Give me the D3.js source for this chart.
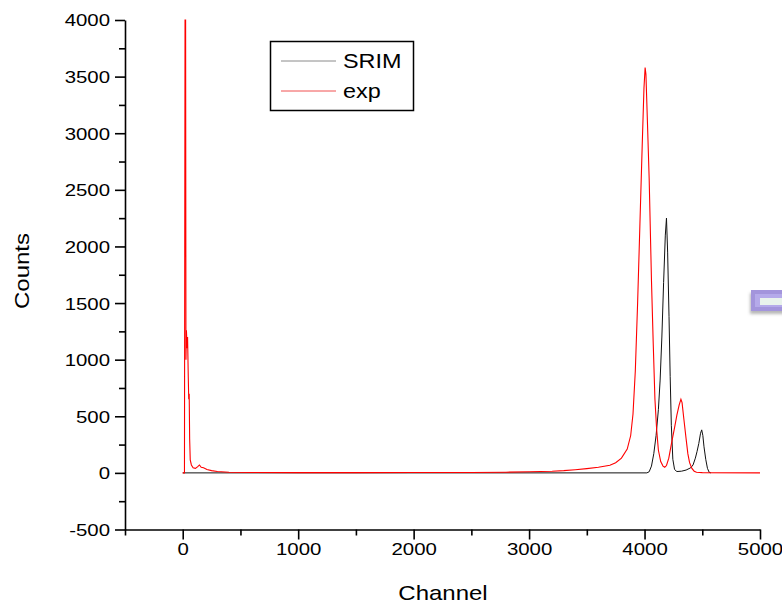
<!DOCTYPE html>
<meta charset="utf-8">
<script src="https://cdn.jsdelivr.net/npm/d3@7"></script>

<style>
  body { margin: 0; background: #fff; }
  text { font-family: "Liberation Sans", Arial, sans-serif; fill: #000; }
</style>

<body>
  <svg id="vis"></svg>
</body>

<script>
  // exp spectrum (red)
  var expChannel = [0, 15, 20, 25, 28, 32, 38, 42, 48, 52, 56, 60, 65, 75, 90, 110, 130, 145, 160, 180, 210, 250, 300, 400, 600,
    1000, 1500, 2000, 2500, 2800, 3000, 3200, 3300, 3400, 3500, 3600, 3700, 3750, 3800, 3850, 3880, 3900, 3920, 3940, 3960,
    3980, 3995, 4005, 4012, 4025, 4040, 4060, 4075, 4090, 4105, 4120, 4140, 4160, 4175, 4190, 4210, 4235, 4260, 4280, 4300,
    4315, 4325, 4340, 4360, 4375, 4390, 4410, 4430, 4450, 4500, 5000];
  var expCounts = [0, 0, 4000, 4000, 1000, 1260, 1100, 1200, 850, 650, 700, 300, 115, 70, 45, 40, 55, 70, 50, 45, 30, 20, 12, 6, 3,
    2, 2, 3, 4, 6, 10, 15, 20, 28, 38, 50, 68, 90, 130, 210, 330, 520, 900, 1500, 2200,
    2900, 3400, 3580, 3520, 3100, 2600, 1700, 1150, 650, 380, 200, 100, 60, 50, 65, 130, 270, 400, 510, 600,
    650, 620, 480, 300, 170, 90, 40, 15, 5, 2, 0];

  // SRIM simulation (black)
  var srimChannel = [0, 4020, 4040, 4060, 4080, 4100, 4120, 4135, 4150, 4165, 4180, 4190, 4200, 4212, 4222, 4232, 4245, 4260,
    4280, 4320, 4360, 4400, 4420, 4440, 4455, 4470, 4485, 4495, 4505, 4515, 4530, 4545, 4560, 4575];
  var srimCounts = [0, 0, 10, 60, 170, 330, 560, 820, 1200, 1680, 2100, 2250, 1950, 1380, 850, 420, 120, 30,
    12, 15, 25, 45, 70, 130, 190, 260, 350, 380, 330, 230, 120, 40, 5, 0];

  var xTicks = [0, 1000, 2000, 3000, 4000, 5000];
  var yTicks = [-500, 0, 500, 1000, 1500, 2000, 2500, 3000, 3500, 4000];

  var width = 782, height = 604;
  var stretch = 1.2;   // the original lettering is wide

  var svg = d3.select("#vis")
    .attr("width", width)
    .attr("height", height);

  svg.append("rect").attr("width", width).attr("height", height).attr("fill", "#fff");

  var x = d3.scaleLinear().domain([-500, 5000]).range([125, 760]);
  var y = d3.scaleLinear().domain([-500, 4000]).range([529.5, 20]);

  // axes
  var yMinor = d3.range(-500, 4001, 250).filter(function(v){ return v % 500 != 0; });
  var xMinor = d3.range(-500, 5001, 500).filter(function(v){ return v % 1000 != 0; });

  svg.append("g")
    .attr("transform", "translate(125,0)")
    .call(d3.axisLeft(y).tickValues(yMinor).tickSize(6).tickFormat(""))
    .call(function(g){ g.select(".domain").remove(); });

  var yAxis = svg.append("g")
    .attr("transform", "translate(125,0)")
    .call(d3.axisLeft(y).tickValues(yTicks).tickSize(10).tickSizeOuter(0).tickFormat(function(d){ return String(d); }));

  svg.append("g")
    .attr("transform", "translate(0,529.5)")
    .call(d3.axisBottom(x).tickValues(xMinor).tickSize(6).tickFormat(""))
    .call(function(g){ g.select(".domain").remove(); });

  var xAxis = svg.append("g")
    .attr("transform", "translate(0,529.5)")
    .call(d3.axisBottom(x).tickValues(xTicks).tickSize(10).tickSizeOuter(0).tickFormat(function(d){ return String(d); }));

  svg.selectAll(".domain, .tick line").attr("stroke", "#000").attr("stroke-width", 1.6);

  yAxis.selectAll("text")
    .attr("font-size", 17)
    .attr("font-family", "Liberation Sans, Arial, sans-serif")
    .attr("x", -15 / stretch)
    .attr("dy", "0.35em")
    .attr("transform", "scale(" + stretch + ",1)");

  xAxis.selectAll("text")
    .attr("font-size", 17)
    .attr("font-family", "Liberation Sans, Arial, sans-serif")
    .attr("y", 26)
    .attr("dy", 0)
    .attr("transform", "scale(" + stretch + ",1)");

  // axis titles
  svg.append("text")
    .attr("text-anchor", "middle")
    .attr("font-size", 20)
    .attr("transform", "translate(443,600) scale(" + stretch + ",1)")
    .text("Channel");

  svg.append("text")
    .attr("text-anchor", "middle")
    .attr("font-size", 20)
    .attr("transform", "translate(29,271) rotate(-90) scale(" + stretch + ",1)")
    .text("Counts");

  // lines
  var line = d3.line()
    .x(function(d){ return x(d[0]); })
    .y(function(d){ return y(d[1]); });

  svg.append("path")
    .datum(srimChannel.map(function(c, i){ return [c, srimCounts[i]]; }))
    .attr("fill", "none")
    .attr("stroke", "#111")
    .attr("stroke-width", 1)
    .attr("d", line);

  svg.append("path")
    .datum(expChannel.map(function(c, i){ return [c, expCounts[i]]; }))
    .attr("fill", "none")
    .attr("stroke", "#ff0000")
    .attr("stroke-width", 1.1)
    .attr("d", line);

  // legend
  var legend = svg.append("g");
  legend.append("rect")
    .attr("x", 270.5).attr("y", 41.5).attr("width", 143).attr("height", 69)
    .attr("fill", "#fff").attr("stroke", "#000").attr("stroke-width", 1.5);
  var legendItems = [["SRIM", "#8a8a8a", 61, 68], ["exp", "#f05050", 91, 98]];
  legendItems.forEach(function(it){
    legend.append("line")
      .attr("x1", 281).attr("x2", 336).attr("y1", it[2]).attr("y2", it[2])
      .attr("stroke", it[1]).attr("stroke-width", 1);
    legend.append("text")
      .attr("font-size", 19.5)
      .attr("transform", "translate(343," + it[3] + ") scale(" + stretch + ",1)")
      .text(it[0]);
  });

  // the clipped purple widget on the right edge
  var defs = svg.append("defs");
  var f = defs.append("filter").attr("id", "shadow").attr("x", "-20%").attr("y", "-20%").attr("width", "160%").attr("height", "180%");
  f.append("feDropShadow").attr("dx", -1).attr("dy", 3).attr("stdDeviation", 1.5).attr("flood-color", "#888").attr("flood-opacity", 0.6);
  var widget = svg.append("g");
  widget.append("rect").attr("x", 751).attr("y", 290).attr("width", 40).attr("height", 21)
    .attr("fill", "#a395dc").attr("filter", "url(#shadow)");
  widget.append("rect").attr("x", 755).attr("y", 294).attr("width", 36).attr("height", 13)
    .attr("fill", "#b5aaea");
  widget.append("rect").attr("x", 760).attr("y", 298).attr("width", 30).attr("height", 7)
    .attr("fill", "#e9f3ec");
</script>
